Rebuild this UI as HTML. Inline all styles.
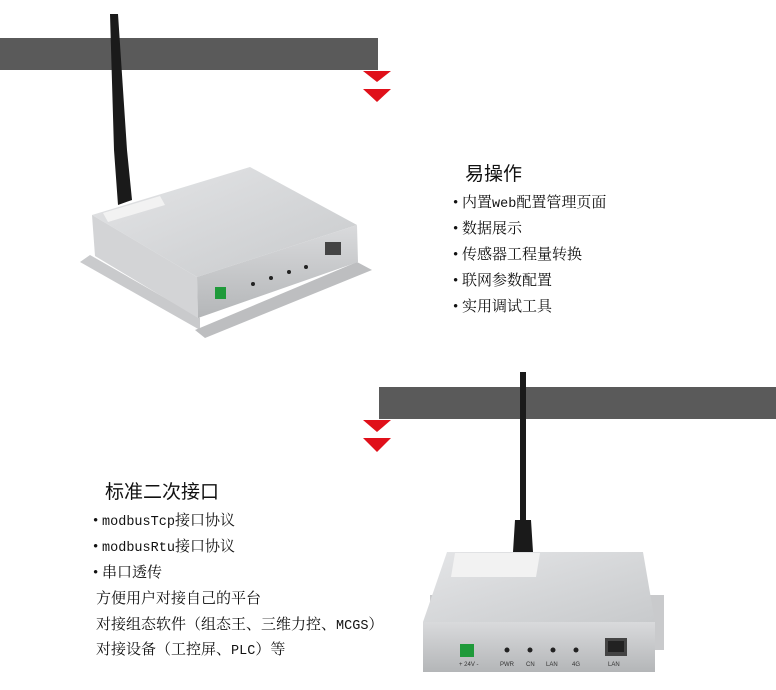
<!DOCTYPE html>
<html><head><meta charset="utf-8"><style>
body{margin:0;width:776px;height:690px;background:#fff;position:relative;overflow:hidden}
.t{position:absolute;font-family:"Liberation Serif","Noto Serif CJK SC",serif;font-size:15px;color:#111;white-space:nowrap;line-height:18px}
.t span{font-family:"Liberation Mono",monospace;font-size:13.5px}
.h{position:absolute;font-family:"Liberation Sans","Noto Sans CJK SC",sans-serif;font-size:19px;color:#111;white-space:nowrap;line-height:22px}
</style></head><body>
<svg width="776" height="690" style="position:absolute;left:0;top:0">
<defs>
<linearGradient id="g1" x1="0" y1="0" x2="1" y2="1"><stop offset="0" stop-color="#e4e5e7"/><stop offset="1" stop-color="#c8cacc"/></linearGradient>
<linearGradient id="g2" x1="0" y1="0" x2="0" y2="1"><stop offset="0" stop-color="#d9dadc"/><stop offset="1" stop-color="#b4b6b8"/></linearGradient>
</defs>
<rect x="0" y="38" width="378" height="32" fill="#5a5a5a"/>
<polygon points="363,71 391,71 377,82" fill="#e0101a"/>
<polygon points="363,89 391,89 377,102" fill="#e0101a"/>
<rect x="379" y="387" width="397" height="32" fill="#5a5a5a"/>
<polygon points="363,420 391,420 377,432" fill="#e0101a"/>
<polygon points="363,438 391,438 377,452" fill="#e0101a"/>
<!-- device 1 -->
<polygon points="80,262 90,255 200,318 200,330" fill="#c9cacc"/>
<polygon points="195,330 357,262 372,270 205,338" fill="#bdbec0"/>
<polygon points="110,14 118,14 127,150 132,200 118,205 114,150" fill="#1a1a1a"/>
<polygon points="92,215 250,167 357,225 197,277" fill="url(#g1)"/>
<polygon points="92,215 197,277 198,318 95,256" fill="#d3d4d6"/>
<polygon points="197,277 357,225 358,262 198,318" fill="url(#g2)"/>
<polygon points="103,213 160,196 165,205 108,222" fill="#f2f2f2"/>
<rect x="215" y="287" width="11" height="12" fill="#1f9a3a"/>
<rect x="325" y="242" width="16" height="13" fill="#444"/>
<circle cx="253" cy="284" r="2" fill="#222"/><circle cx="271" cy="278" r="2" fill="#222"/><circle cx="289" cy="272" r="2" fill="#222"/><circle cx="306" cy="267" r="2" fill="#222"/>
<!-- device 2 -->
<rect x="520" y="372" width="6" height="150" fill="#1a1a1a"/>
<polygon points="515,520 531,520 533,552 513,552" fill="#1a1a1a"/>
<rect x="430" y="595" width="234" height="55" fill="#c9cacc"/>
<polygon points="447,552 643,552 655,622 423,622" fill="url(#g1)"/>
<rect x="423" y="622" width="232" height="50" fill="url(#g2)"/>
<polygon points="455,553 540,553 536,577 451,577" fill="#f2f2f2"/>
<rect x="460" y="644" width="14" height="13" fill="#1f9a3a"/>
<rect x="605" y="638" width="22" height="18" fill="#444"/><rect x="608" y="641" width="16" height="11" fill="#222"/>
<circle cx="507" cy="650" r="2.5" fill="#222"/><circle cx="530" cy="650" r="2.5" fill="#222"/><circle cx="553" cy="650" r="2.5" fill="#222"/><circle cx="576" cy="650" r="2.5" fill="#222"/>
<g font-family="Liberation Sans,sans-serif" font-size="6" fill="#333">
<text x="459" y="666">+ 24V -</text><text x="500" y="666">PWR</text><text x="526" y="666">CN</text><text x="546" y="666">LAN</text><text x="572" y="666">4G</text><text x="608" y="666">LAN</text></g>
</svg>
<div class="h" style="left:465px;top:164px">易操作</div>
<div class="t" style="left:453px;top:194px">• 内置<span>web</span>配置管理页面</div>
<div class="t" style="left:453px;top:220px">• 数据展示</div>
<div class="t" style="left:453px;top:246px">• 传感器工程量转换</div>
<div class="t" style="left:453px;top:272px">• 联网参数配置</div>
<div class="t" style="left:453px;top:298px">• 实用调试工具</div>
<div class="h" style="left:105px;top:482px">标准二次接口</div>
<div class="t" style="left:93px;top:512px">• <span>modbusTcp</span>接口协议</div>
<div class="t" style="left:93px;top:538px">• <span>modbusRtu</span>接口协议</div>
<div class="t" style="left:93px;top:564px">• 串口透传</div>
<div class="t" style="left:96px;top:590px">方便用户对接自己的平台</div>
<div class="t" style="left:96px;top:616px">对接组态软件（组态王、三维力控、<span>MCGS</span>）</div>
<div class="t" style="left:96px;top:641px">对接设备（工控屏、<span>PLC</span>）等</div>
</body></html>
